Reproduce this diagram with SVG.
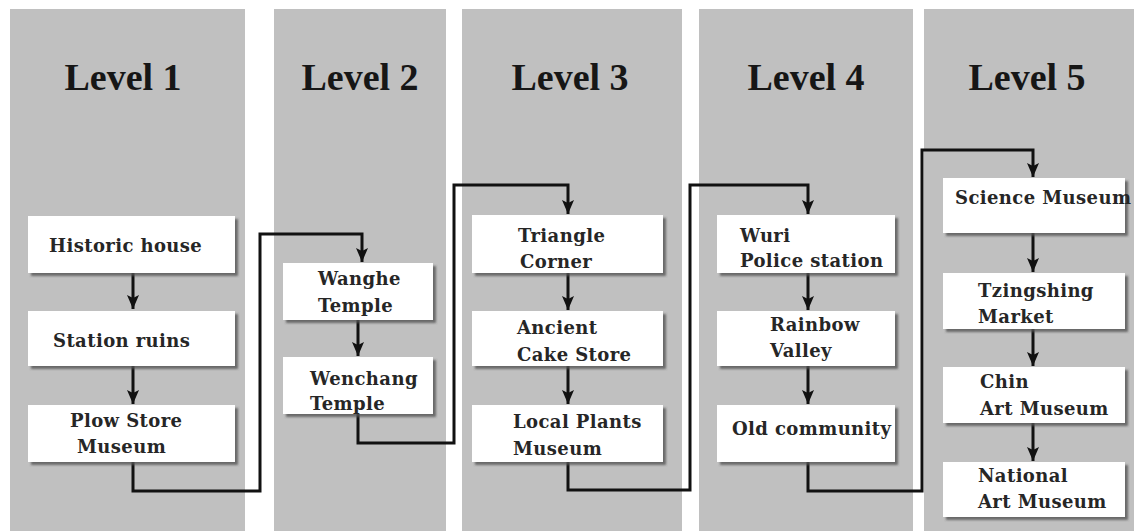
<svg xmlns="http://www.w3.org/2000/svg" width="1134" height="531" viewBox="0 0 1134 531">
<defs>
<style>
.panel{fill:#c0c0c0}
.title{font-family:"Liberation Serif","Times New Roman",serif;font-weight:bold;font-size:38px;fill:#161616;text-anchor:middle}
.box{fill:#ffffff;filter:url(#sh)}
.lbl{font-family:"DejaVu Serif","Liberation Serif",serif;font-weight:bold;font-size:18px;letter-spacing:0.4px;fill:#262626}
.con{fill:none;stroke:#111;stroke-width:3}
</style>
<filter id="sh" x="-10%" y="-10%" width="130%" height="140%">
<feDropShadow dx="3" dy="3" stdDeviation="1.3" flood-color="#555" flood-opacity="0.8"/>
</filter>
<marker id="ah" viewBox="0 0 14 12" refX="14" refY="6" markerWidth="14" markerHeight="13" markerUnits="userSpaceOnUse" orient="auto">
<path d="M0,0 L14,6 L0,12 L3,6 z" fill="#111"/>
</marker>
</defs>
<rect width="1134" height="531" fill="#ffffff"/>
<g id="level1">
<rect class="panel" x="10" y="9" width="235" height="522"/>
<text class="title" x="123" y="90">Level 1</text>
</g>
<g id="level2">
<rect class="panel" x="274" y="9" width="172" height="522"/>
<text class="title" x="360" y="90">Level 2</text>
</g>
<g id="level3">
<rect class="panel" x="462" y="9" width="220" height="522"/>
<text class="title" x="570" y="90">Level 3</text>
</g>
<g id="level4">
<rect class="panel" x="699" y="9" width="214" height="522"/>
<text class="title" x="806" y="90">Level 4</text>
</g>
<g id="level5">
<rect class="panel" x="924" y="9" width="210" height="522"/>
<text class="title" x="1027" y="90">Level 5</text>
</g>
<g id="connectors">
<path class="con" d="M133,273 V309" marker-end="url(#ah)"/>
<path class="con" d="M133,366 V404" marker-end="url(#ah)"/>
<path class="con" d="M133,462 V491 H260 V234 H362 V262" marker-end="url(#ah)"/>
<path class="con" d="M358,320 V356" marker-end="url(#ah)"/>
<path class="con" d="M358,405 V443 H454 V185 H568 V214" marker-end="url(#ah)"/>
<path class="con" d="M568,273 V310" marker-end="url(#ah)"/>
<path class="con" d="M568,366 V404" marker-end="url(#ah)"/>
<path class="con" d="M568,462 V490 H690 V185 H808 V214" marker-end="url(#ah)"/>
<path class="con" d="M808,273 V310" marker-end="url(#ah)"/>
<path class="con" d="M808,366 V404" marker-end="url(#ah)"/>
<path class="con" d="M808,462 V491 H922 V150 H1033 V177" marker-end="url(#ah)"/>
<path class="con" d="M1033,233 V272" marker-end="url(#ah)"/>
<path class="con" d="M1033,329 V366" marker-end="url(#ah)"/>
<path class="con" d="M1033,423 V461" marker-end="url(#ah)"/>
</g>
<g id="historic-house">
<rect class="box" x="28" y="216" width="207" height="57"/>
<text class="lbl" x="49" y="252">Historic house</text>
</g>
<g id="station-ruins">
<rect class="box" x="28" y="311" width="207" height="55"/>
<text class="lbl" x="53" y="347">Station ruins</text>
</g>
<g id="plow-store-museum">
<rect class="box" x="28" y="405" width="207" height="57"/>
<text class="lbl" x="70" y="427">Plow Store</text>
<text class="lbl" x="77" y="453">Museum</text>
</g>
<g id="wanghe-temple">
<rect class="box" x="283" y="263" width="150" height="57"/>
<text class="lbl" x="318" y="285">Wanghe</text>
<text class="lbl" x="318" y="312">Temple</text>
</g>
<g id="wenchang-temple">
<rect class="box" x="283" y="357" width="150" height="57"/>
<text class="lbl" x="310" y="385">Wenchang</text>
<text class="lbl" x="310" y="410">Temple</text>
</g>
<g id="triangle-corner">
<rect class="box" x="472" y="215" width="191" height="58"/>
<text class="lbl" x="518" y="242">Triangle</text>
<text class="lbl" x="520" y="268">Corner</text>
</g>
<g id="ancient-cake-store">
<rect class="box" x="472" y="311" width="191" height="55"/>
<text class="lbl" x="517" y="334">Ancient</text>
<text class="lbl" x="517" y="361">Cake Store</text>
</g>
<g id="local-plants-museum">
<rect class="box" x="472" y="405" width="191" height="57"/>
<text class="lbl" x="513" y="428">Local Plants</text>
<text class="lbl" x="513" y="455">Museum</text>
</g>
<g id="wuri-police-station">
<rect class="box" x="717" y="215" width="178" height="58"/>
<text class="lbl" x="740" y="242">Wuri</text>
<text class="lbl" x="740" y="267">Police station</text>
</g>
<g id="rainbow-valley">
<rect class="box" x="717" y="311" width="178" height="55"/>
<text class="lbl" x="770" y="331">Rainbow</text>
<text class="lbl" x="770" y="357">Valley</text>
</g>
<g id="old-community">
<rect class="box" x="717" y="405" width="178" height="57"/>
<text class="lbl" x="732" y="435">Old community</text>
</g>
<g id="science-museum">
<rect class="box" x="943" y="178" width="182" height="55"/>
<text class="lbl" x="955" y="204">Science Museum</text>
</g>
<g id="tzingshing-market">
<rect class="box" x="943" y="273" width="182" height="56"/>
<text class="lbl" x="978" y="297">Tzingshing</text>
<text class="lbl" x="978" y="323">Market</text>
</g>
<g id="chin-art-museum">
<rect class="box" x="943" y="367" width="182" height="56"/>
<text class="lbl" x="980" y="388">Chin</text>
<text class="lbl" x="980" y="415">Art Museum</text>
</g>
<g id="national-art-museum">
<rect class="box" x="943" y="462" width="182" height="55"/>
<text class="lbl" x="978" y="482">National</text>
<text class="lbl" x="978" y="508">Art Museum</text>
</g>
</svg>
